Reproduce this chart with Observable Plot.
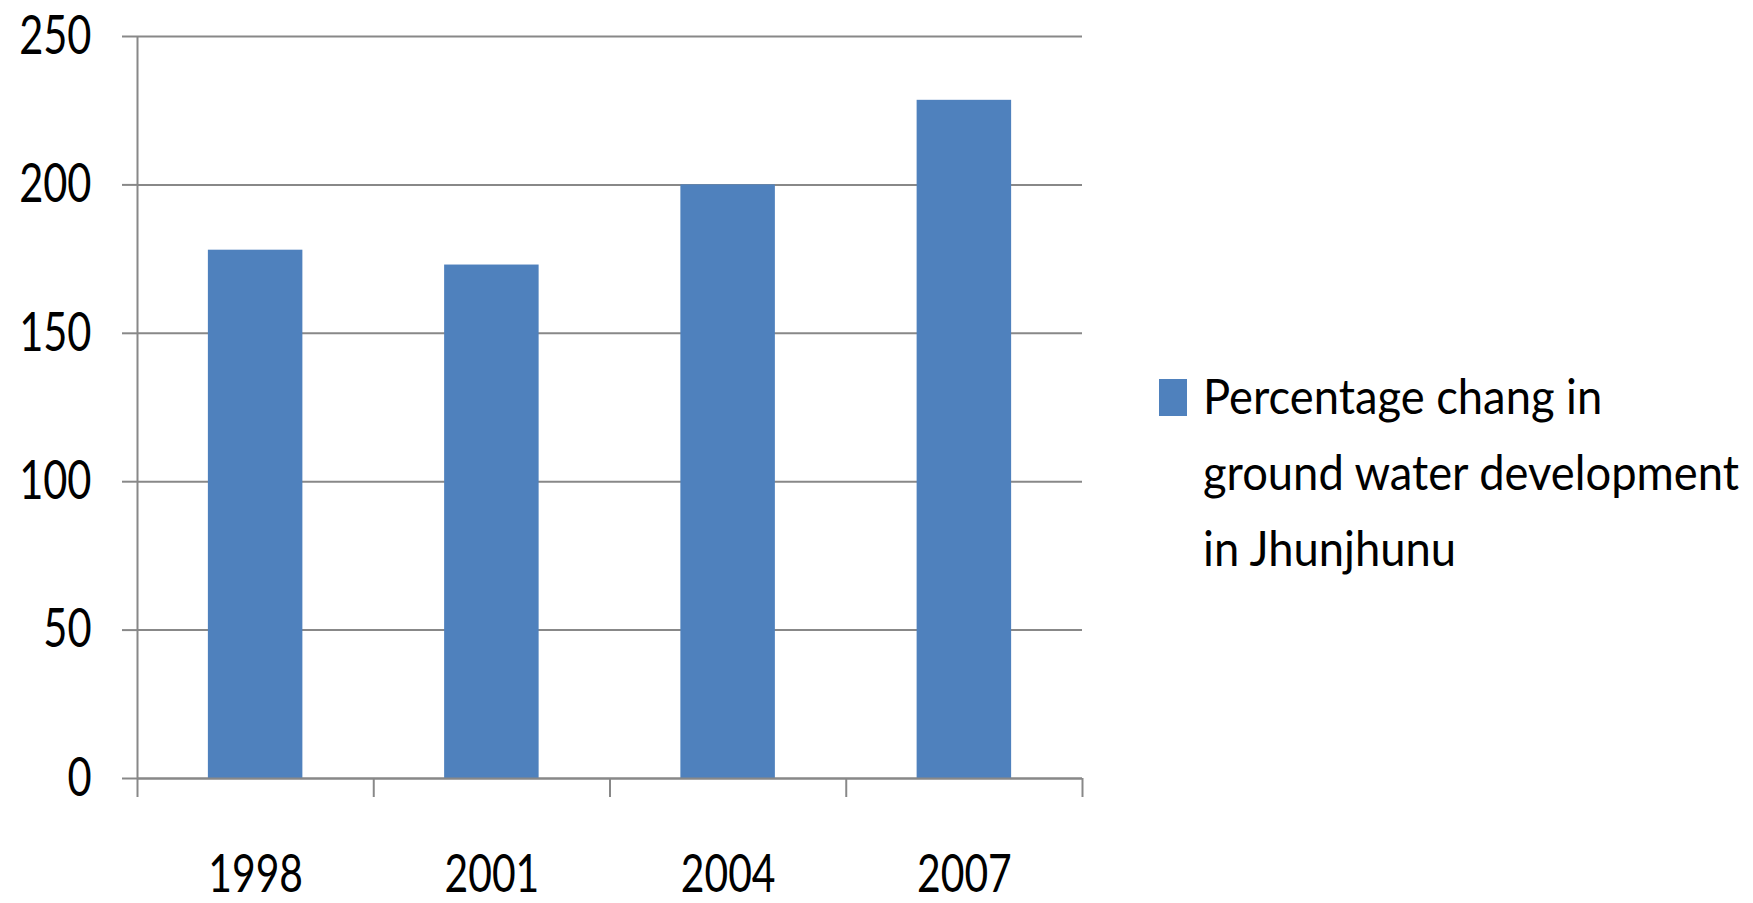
<!DOCTYPE html>
<html><head><meta charset="utf-8">
<script src="https://cdn.jsdelivr.net/npm/d3@7"></script>
<script src="https://cdn.jsdelivr.net/npm/@observablehq/plot@0.6"></script>
<style>
body{margin:0;background:#fff;}
#wrap{position:relative;width:1753px;height:903px;font-family:Lato,"Open Sans",sans-serif;color:#000;}
#legend{position:absolute;left:1159px;top:357px;}
#legend .sw{position:absolute;left:0;top:22px;width:28px;height:37px;background:#4F81BD;}
#legend .txt{position:absolute;left:44px;top:0;font-size:49px;line-height:76px;white-space:nowrap;transform:scaleX(0.925);transform-origin:0 0;}
</style></head><body><div id="wrap"></div>
<script>
const years = ["1998", "2001", "2004", "2007"];
const values = [178, 173, 200, 228.5];
const yTicks = [0, 50, 100, 150, 200, 250];
const legendLines = ["Percentage chang in", "ground water development", "in Jhunjhunu"];

const data = years.map((year, i) => ({year, i, value: values[i]}));
const half = 0.2;
const boundaries = d3.range(-0.5, years.length, 1);
const axisColor = "#888888";
const font = 'Lato,"Open Sans",sans-serif';
const squeezeX = 0.77;

const plot = Plot.plot({
  width: 1753, height: 903,
  marginLeft: 137, marginRight: 671, marginTop: 36, marginBottom: 125,
  style: {fontFamily: font, fontSize: "54px", color: "#000", background: "#fff", overflow: "visible"},
  x: {domain: [-0.5, years.length - 0.5], axis: null},
  y: {domain: [0, 250], axis: null},
  marks: [
    Plot.gridY(yTicks, {stroke: axisColor, strokeOpacity: 1, strokeWidth: 2}),
    Plot.rectY(data, {x1: d => d.i - half, x2: d => d.i + half, y: "value", fill: "#4F81BD"}),
    Plot.ruleY([0], {stroke: axisColor, strokeWidth: 2}),
    Plot.ruleX([-0.5], {y1: 0, y2: 250, stroke: axisColor, strokeWidth: 2}),
    Plot.axisY({ticks: yTicks, label: null, tickSize: 15, tickPadding: 31, stroke: axisColor, strokeWidth: 2, fill: "#000", fontSize: 54}),
    Plot.axisX({ticks: boundaries, label: null, tickSize: 19, tickFormat: () => "", stroke: axisColor, strokeWidth: 2}),
    Plot.axisX({ticks: d3.range(years.length), label: null, tickSize: 0, tickPadding: 76, tickFormat: i => years[i], fill: "#000", fontSize: 53})
  ]
});

// narrow the tick labels horizontally (reference glyphs are condensed)
plot.querySelectorAll('[aria-label$="tick label"] text').forEach(el => {
  const t = el.getAttribute("transform") || "";
  el.setAttribute("transform", `${t} scale(${squeezeX},1)`);
});

const wrap = document.getElementById("wrap");
wrap.appendChild(plot);
const legend = document.createElement("div");
legend.id = "legend";
legend.innerHTML = '<span class="sw"></span><div class="txt"></div>';
legend.querySelector(".txt").innerHTML = legendLines.map(s => s.replace(/&/g, "&amp;").replace(/</g, "&lt;")).join("<br>");
wrap.appendChild(legend);
</script>
</body></html>
